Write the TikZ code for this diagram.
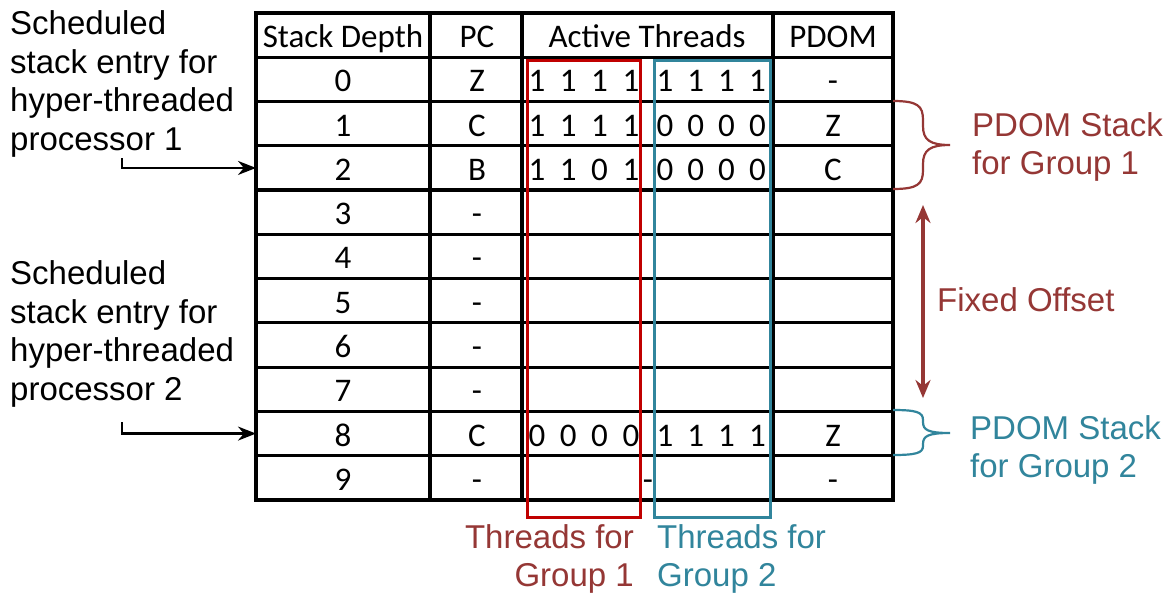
\documentclass[tikz,border=0pt]{standalone}
\usepackage{fontspec}
\setmainfont{Liberation Sans}
\newfontfamily\tabfont{Carlito}
\usetikzlibrary{arrows.meta}
\definecolor{boxred}{HTML}{C00000}
\definecolor{darkred}{HTML}{953735}
\definecolor{grpteal}{HTML}{31859C}
\begin{document}
\begin{tikzpicture}[x=1pt,y=-1pt,
  cell/.style={font=\tabfont\fontsize{33}{38}\selectfont, inner sep=0pt,
               text height=21pt, text depth=0pt, anchor=center},
  lbl/.style={font=\fontsize{33}{38.5}\selectfont, inner sep=0pt},
  grid/.style={line width=3.2pt, black},
  groupbox/.style={line width=3pt},
  pointer/.style={line width=2.4pt, black, -{Stealth[length=18pt,width=14pt]}},
  brace/.style={line width=2.2pt}]
\useasboundingbox (0,0) rectangle (1170,595);
\fill[white] (0,0) rectangle (1170,595);

% table grid
\def\rh{44.27}
\foreach \k in {1,...,10}
  \draw[grid] (256,{13+\rh*\k}) -- (893,{13+\rh*\k});
\foreach \x in {430,522,773}
  \draw[grid] (\x,13) -- (\x,500);
\draw[grid] (256,13) rectangle (893,500);

% header
\node[cell] (hsd) at (343,37) {Stack Depth};
\node[cell] (hpc) at (477,37) {PC};
\node[cell] (hat) at (647,37) {Active Threads};
\node[cell] (hpd) at (833,37) {PDOM};

% depth, PC and PDOM columns
\foreach \i/\pc/\pd in {0/Z/-,1/C/Z,2/B/C,3/-/,4/-/,5/-/,6/-/,7/-/,8/C/Z,9/-/-}{
  \node[cell] (sd\i) at (343,{15+\rh*(\i+1.5)}) {\i};
  \node[cell] (pc\i) at (477,{15+\rh*(\i+1.5)}) {\pc};
  \node[cell] (pd\i) at (833,{15+\rh*(\i+1.5)}) {\pd};
}

% active thread masks
\foreach \i/\a/\b/\c/\d/\e/\f/\g/\h in
  {0/1/1/1/1/1/1/1/1, 1/1/1/1/1/0/0/0/0, 2/1/1/0/1/0/0/0/0, 8/0/0/0/0/1/1/1/1}{
  \foreach \v [count=\j from 0] in {\a,\b,\c,\d}
    \node[cell] (ta\i-\j) at ({537+31.3*\j},{15+\rh*(\i+1.5)}) {\v};
  \foreach \v [count=\j from 0] in {\e,\f,\g,\h}
    \node[cell] (tb\i-\j) at ({665+30.8*\j},{15+\rh*(\i+1.5)}) {\v};
}
\node[cell] (ta9) at (648,{15+\rh*10.5}) {-};

% thread group boxes
\draw[groupbox, boxred] (527,60) rectangle (640,517);
\draw[groupbox, grpteal] (654,60) rectangle (770,517);
\node[lbl, darkred, align=right, anchor=east] (g1) at (634,559) {Threads for\\Group 1};
\node[lbl, grpteal, align=left, anchor=west] (g2) at (657,559) {Threads for\\Group 2};

% scheduled entry pointers
\node[lbl, align=left, anchor=west] (s1) at (10,84)
  {Scheduled\\stack entry for\\hyper-threaded\\processor 1};
\node[lbl, align=left, anchor=west] (s2) at (10,334)
  {Scheduled\\stack entry for\\hyper-threaded\\processor 2};
\coordinate (p1) at (122,158);
\coordinate (p2) at (122,422);
\coordinate (r2) at (256,{13+\rh*3.5});
\coordinate (r8) at (256,{13+\rh*9.5});
\draw[pointer] (p1) |- (r2);
\draw[pointer] (p2) |- (r8);

% braces for the two PDOM stacks
\draw[brace, darkred] (893,101) .. controls (918,101) and (923,106) .. (923,120)
  -- (923,126) .. controls (923,140) and (930,145) .. (950,145)
  .. controls (930,145) and (923,150) .. (923,164) -- (923,170)
  .. controls (923,184) and (918,189) .. (893,189);
\draw[brace, grpteal] (893,410) .. controls (916,410) and (923,412) .. (923,420)
  -- (923,422) .. controls (923,430) and (928,433) .. (950,433)
  .. controls (928,433) and (923,436) .. (923,444) -- (923,446)
  .. controls (923,453) and (916,455) .. (893,455);
\node[lbl, darkred, align=left, anchor=west] (st1) at (972,147) {PDOM Stack\\for Group 1};
\node[lbl, grpteal, align=left, anchor=west] (st2) at (970,450) {PDOM Stack\\for Group 2};

% fixed offset between the stacks
\coordinate (fo1) at (923,205);
\coordinate (fo2) at (923,398);
\draw[darkred, line width=3.2pt, {Stealth[length=18pt,width=15pt]}-{Stealth[length=18pt,width=15pt]}] (fo1) -- (fo2);
\node[lbl, darkred, anchor=west] (fo) at (937,300) {Fixed Offset};
\end{tikzpicture}
\end{document}
